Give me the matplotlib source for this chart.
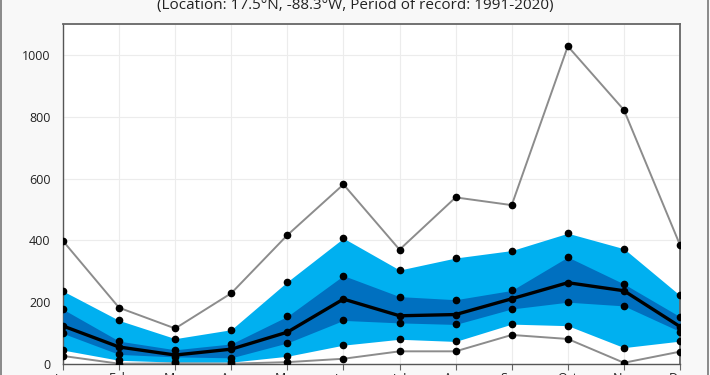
import matplotlib
matplotlib.use("Agg")
import matplotlib.pyplot as plt
from matplotlib.patches import Rectangle

plt.rcParams["font.family"] = ["Open Sans", "DejaVu Sans"]

months = ["Jan", "Feb", "Mar", "Apr", "May", "Jun",
          "Jul", "Aug", "Sep", "Oct", "Nov", "Dec"]

# monthly precipitation statistics (mm)
p_max = [398, 182, 115, 229, 417, 581, 370, 539, 514, 1028, 822, 385]
p90 = [236, 141, 82, 111, 266, 407, 304, 343, 367, 423, 373, 222]
p75 = [177, 74, 46, 65, 154, 286, 218, 208, 238, 346, 259, 153]
p_mean = [123, 55, 29, 48, 103, 210, 156, 160, 211, 263, 237, 121]
p25 = [99, 31, 23, 20, 68, 141, 133, 128, 178, 200, 188, 105]
p10 = [45, 12, 6, 6, 25, 61, 80, 73, 129, 124, 53, 74]
p_min = [26, 1, 2, 1, 6, 17, 41, 41, 94, 81, 4, 40]

subtitle = "(Location: 17.5\u00b0N, -88.3\u00b0W, Period of record: 1991-2020)"

x = list(range(len(months)))

fig = plt.figure(figsize=(7.1, 3.75), dpi=100, facecolor="#f8f8f8")
ax = fig.add_axes([63 / 710, 11 / 375, 617 / 710, 340 / 375])
ax.set_facecolor("white")

light = "#00b0f0"
dark = "#0070c0"
grey = "#8c8c8c"

ax.fill_between(x, p10, p90, color=light, linewidth=0, zorder=2)
ax.fill_between(x, p25, p75, color=dark, linewidth=0, zorder=3)

for series in (p_max, p_min):
    ax.plot(x, series, color=grey, lw=1.4, marker="o", ms=4.5,
            mfc="black", mec="black", zorder=4)
for series in (p90, p75, p25, p10):
    ax.plot(x, series, lw=0, marker="o", ms=4.5, color="black", zorder=5)
ax.plot(x, p_mean, color="black", lw=2.4, marker="o", ms=4.5, zorder=6)

ax.set_xlim(0, 11)
ax.set_ylim(0, 1100)
ax.set_xticks(x)
ax.set_xticklabels(months)
ax.set_yticks(range(0, 1001, 200))
ax.grid(True, color="#ececec", lw=0.8, zorder=0)
ax.set_axisbelow(True)
ax.tick_params(axis="y", length=0, pad=9, labelsize=9, labelcolor="#222222")
ax.tick_params(axis="x", length=4, color="#666666", pad=2, labelsize=9,
               labelcolor="#222222")

for side in ("left", "bottom"):
    ax.spines[side].set_color("#555555")
    ax.spines[side].set_linewidth(1.0)
for side in ("top", "right"):
    ax.spines[side].set_color("#666666")
    ax.spines[side].set_linewidth(1.3)

fig.text(355 / 710, (375 - 8.5) / 375, subtitle, ha="center", va="baseline",
         fontsize=11, color="#222222")

fig.patches.append(Rectangle((1.5 / 710, -0.1), 706.5 / 710, 1.2,
                             transform=fig.transFigure, fill=False,
                             edgecolor="#777777", lw=1.2))

fig.savefig("out.png", dpi=100, facecolor=fig.get_facecolor())
